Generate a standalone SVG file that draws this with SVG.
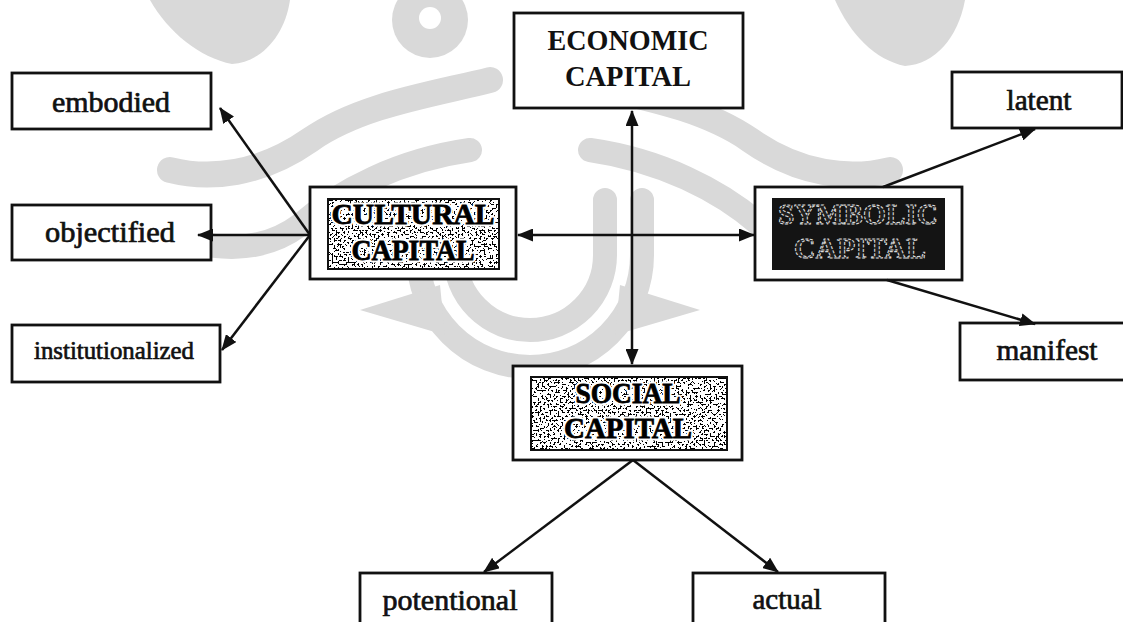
<svg xmlns="http://www.w3.org/2000/svg" width="1123" height="622" viewBox="0 0 1123 622">
<style>
  .box{fill:#fff;stroke:#111;stroke-width:2.8}
  .lbl{font-family:"Liberation Serif","Times New Roman",serif;font-size:29px;fill:#111;stroke:#111;stroke-width:0.7;text-anchor:middle}
  .big{font-family:"Liberation Serif","Times New Roman",serif;font-size:30px;font-weight:bold;text-anchor:middle}
  .halo{fill:#fff;stroke:#fff;stroke-width:5;stroke-linejoin:round}
  .ink{fill:#000;stroke:#000;stroke-width:0.8}
  .plain{fill:#111}
  .outl{fill:#202020;stroke:#d8d8d8;stroke-width:1.1;stroke-dasharray:3 1.5}
  .edge{stroke:#111;stroke-width:2.5;fill:none}
  .wm{fill:none;stroke:#d9d9d9;stroke-linecap:round}
</style>
<defs>
  <marker id="ah" viewBox="0 0 16 13" refX="15" refY="6.5" markerWidth="16" markerHeight="13" markerUnits="userSpaceOnUse" orient="auto-start-reverse">
    <path d="M0,0 L16,6.5 L0,13 Z" fill="#111"/>
  </marker>
  <filter id="speck" x="0" y="0" width="1" height="1" color-interpolation-filters="sRGB">
    <feTurbulence type="fractalNoise" baseFrequency="0.5" numOctaves="2" seed="7" result="n"/>
    <feColorMatrix in="n" type="matrix" values="0 0 0 0 0  0 0 0 0 0  0 0 0 0 0  1.8 0 0 0 -0.5" result="a"/>
    <feComponentTransfer in="a"><feFuncA type="discrete" tableValues="0 1"/></feComponentTransfer>
  </filter>
</defs>
<rect x="0" y="0" width="1123" height="622" fill="#fff"/>

<g id="watermark" fill="#d9d9d9">
  <path d="M150,0 L290,0 C285,35 262,62 232,64 C200,58 168,32 150,0 Z"/>
  <path d="M835,0 L965,0 C958,38 935,64 905,66 C875,60 850,34 835,0 Z"/>
  <circle cx="430" cy="20" r="38"/>
  <circle cx="430" cy="18" r="11" fill="#fff"/>
  <path class="wm" stroke-width="26" d="M490,80 C430,95 360,105 310,140 C260,175 210,180 170,170"/>
  <path class="wm" stroke-width="24" d="M470,150 C400,160 340,190 300,225 C260,255 210,250 175,235"/>
  <path class="wm" stroke-width="26" d="M570,80 C630,95 700,105 750,140 C800,175 850,180 890,170"/>
  <path class="wm" stroke-width="24" d="M590,150 C660,160 720,190 760,225 C800,255 850,250 885,235"/>
  <path class="wm" stroke-width="24" d="M455,200 L455,255 A75,75 0 0 0 605,255 L605,200"/>
  <path class="wm" stroke-width="24" d="M418,200 L418,255 A112,112 0 0 0 642,255 L642,200"/>
  <path d="M360,310 L440,285 L445,335 Z"/>
  <path d="M700,310 L620,285 L615,335 Z"/>
</g>

<g id="economic">
  <rect class="box" x="514" y="13" width="229" height="95"/>
  <text class="big plain" x="628" y="50" textLength="161" lengthAdjust="spacingAndGlyphs">ECONOMIC</text>
  <text class="big plain" x="628" y="86" textLength="126" lengthAdjust="spacingAndGlyphs">CAPITAL</text>
</g>

<g id="cultural">
  <rect class="box" x="310" y="187" width="206" height="92"/>
  <rect x="328" y="199" width="171" height="70" fill="#fff"/>
  <rect x="328" y="199" width="171" height="70" filter="url(#speck)"/>
  <rect x="328" y="199" width="171" height="70" fill="none" stroke="#111" stroke-width="2"/>
  <text class="big halo" x="413" y="224" textLength="163" lengthAdjust="spacingAndGlyphs">CULTURAL</text>
  <text class="big halo" x="413" y="260" textLength="123" lengthAdjust="spacingAndGlyphs">CAPITAL</text>
  <text class="big ink" x="413" y="224" textLength="163" lengthAdjust="spacingAndGlyphs">CULTURAL</text>
  <text class="big ink" x="413" y="260" textLength="123" lengthAdjust="spacingAndGlyphs">CAPITAL</text>
</g>

<g id="symbolic">
  <rect class="box" x="755" y="187" width="207" height="93"/>
  <rect x="772" y="198" width="173" height="72" fill="#141414"/>
  <text class="big outl" x="858" y="224" textLength="160" lengthAdjust="spacingAndGlyphs">SYMBOLIC</text>
  <text class="big outl" x="860" y="258" textLength="132" lengthAdjust="spacingAndGlyphs">CAPITAL</text>
</g>

<g id="social">
  <rect class="box" x="513" y="366" width="229" height="94"/>
  <rect x="531" y="377" width="196" height="73" fill="#fff"/>
  <rect x="531" y="377" width="196" height="73" filter="url(#speck)"/>
  <rect x="531" y="377" width="196" height="73" fill="none" stroke="#111" stroke-width="2"/>
  <text class="big halo" x="628" y="403" textLength="105" lengthAdjust="spacingAndGlyphs">SOCIAL</text>
  <text class="big halo" x="628" y="438" textLength="128" lengthAdjust="spacingAndGlyphs">CAPITAL</text>
  <text class="big ink" x="628" y="403" textLength="105" lengthAdjust="spacingAndGlyphs">SOCIAL</text>
  <text class="big ink" x="628" y="438" textLength="128" lengthAdjust="spacingAndGlyphs">CAPITAL</text>
</g>

<g id="embodied">
  <rect class="box" x="12" y="73" width="199" height="56"/>
  <text class="lbl" x="111" y="112" textLength="118" lengthAdjust="spacingAndGlyphs">embodied</text>
</g>
<g id="objectified">
  <rect class="box" x="12" y="205" width="199" height="55"/>
  <text class="lbl" x="110" y="242" textLength="130" lengthAdjust="spacingAndGlyphs">objectified</text>
</g>
<g id="institutionalized">
  <rect class="box" x="12" y="325" width="208" height="57"/>
  <text class="lbl" x="114" y="359" textLength="160" lengthAdjust="spacingAndGlyphs" style="font-size:26px">institutionalized</text>
</g>
<g id="latent">
  <rect class="box" x="952" y="72" width="170" height="56"/>
  <text class="lbl" x="1039" y="110" textLength="65" lengthAdjust="spacingAndGlyphs">latent</text>
</g>
<g id="manifest">
  <rect class="box" x="960" y="323" width="175" height="57"/>
  <text class="lbl" x="1047" y="360" textLength="101" lengthAdjust="spacingAndGlyphs">manifest</text>
</g>
<g id="potentional">
  <rect class="box" x="360" y="573" width="192" height="70"/>
  <text class="lbl" x="450" y="610" textLength="135" lengthAdjust="spacingAndGlyphs">potentional</text>
</g>
<g id="actual">
  <rect class="box" x="693" y="573" width="192" height="70"/>
  <text class="lbl" x="787" y="609" textLength="69" lengthAdjust="spacingAndGlyphs">actual</text>
</g>

<g id="connectors" class="edge">
  <line x1="632" y1="111" x2="632" y2="364" marker-start="url(#ah)" marker-end="url(#ah)"/>
  <line x1="518" y1="235" x2="754" y2="235" marker-start="url(#ah)" marker-end="url(#ah)"/>
  <line x1="310" y1="235" x2="220" y2="108" marker-end="url(#ah)"/>
  <line x1="310" y1="235" x2="198" y2="235" marker-end="url(#ah)"/>
  <line x1="310" y1="235" x2="222" y2="350" marker-end="url(#ah)"/>
  <line x1="883" y1="187" x2="1035" y2="129" marker-end="url(#ah)"/>
  <line x1="887" y1="280" x2="1035" y2="324" marker-end="url(#ah)"/>
  <line x1="633" y1="460" x2="484" y2="572" marker-end="url(#ah)"/>
  <line x1="633" y1="460" x2="778" y2="572" marker-end="url(#ah)"/>
</g>
</svg>
